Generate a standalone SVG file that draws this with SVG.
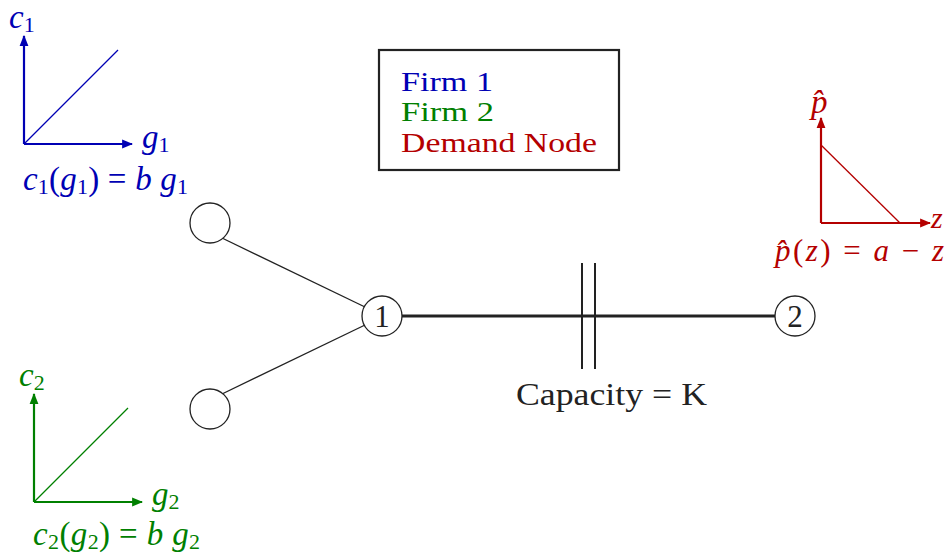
<svg xmlns="http://www.w3.org/2000/svg" width="946" height="557" viewBox="0 0 946 557">
<style>
text{font-family:"Liberation Serif","Times New Roman",serif;}
.it{font-style:italic;}
.blue{fill:#0000b4;}
.green{fill:#008000;}
.red{fill:#b40000;}
.ax{fill:none;stroke-width:2.2;}
.diag{fill:none;stroke-width:1.3;}
.node{fill:#fff;stroke:#222;stroke-width:1.3;}
.lbl{font-size:31px;fill:#222;}
</style>
<defs>
<marker id="ab" viewBox="0 0 10 10" refX="9" refY="5" markerWidth="5" markerHeight="5" orient="auto" markerUnits="strokeWidth"><path d="M0,1 L10,5 L0,9 Z" fill="#0000b4"/></marker>
<marker id="ag" viewBox="0 0 10 10" refX="9" refY="5" markerWidth="5" markerHeight="5" orient="auto" markerUnits="strokeWidth"><path d="M0,1 L10,5 L0,9 Z" fill="#008000"/></marker>
<marker id="ar" viewBox="0 0 10 10" refX="9" refY="5" markerWidth="5" markerHeight="5" orient="auto" markerUnits="strokeWidth"><path d="M0,1 L10,5 L0,9 Z" fill="#b40000"/></marker>
</defs>
<rect width="946" height="557" fill="#fff"/>

<g id="cost1">
<path class="ax" stroke="#0000b4" d="M24,144 V36" marker-end="url(#ab)"/>
<path class="ax" stroke="#0000b4" d="M24,144 H132" marker-end="url(#ab)"/>
<path class="diag" stroke="#0000b4" d="M24,144 L118,50"/>
<text class="blue" x="9" y="28" font-size="33"><tspan class="it">c</tspan><tspan font-size="22" dy="4">1</tspan></text>
<text class="blue" x="142" y="148" font-size="33"><tspan class="it">g</tspan><tspan font-size="22" dy="4">1</tspan></text>
<text class="blue" x="23" y="190" font-size="33" textLength="165" lengthAdjust="spacing"><tspan class="it">c</tspan><tspan font-size="22" dy="4">1</tspan><tspan dy="-4">(</tspan><tspan class="it">g</tspan><tspan font-size="22" dy="4">1</tspan><tspan dy="-4">) = </tspan><tspan class="it">b g</tspan><tspan font-size="22" dy="4">1</tspan></text>
</g>

<g id="cost2">
<path class="ax" stroke="#008000" d="M34,502 V394" marker-end="url(#ag)"/>
<path class="ax" stroke="#008000" d="M34,502 H142" marker-end="url(#ag)"/>
<path class="diag" stroke="#008000" d="M34,502 L128,408"/>
<text class="green" x="19" y="386" font-size="33"><tspan class="it">c</tspan><tspan font-size="22" dy="4">2</tspan></text>
<text class="green" x="152" y="505" font-size="33"><tspan class="it">g</tspan><tspan font-size="22" dy="4">2</tspan></text>
<text class="green" x="33" y="545" font-size="33" textLength="167" lengthAdjust="spacing"><tspan class="it">c</tspan><tspan font-size="22" dy="4">2</tspan><tspan dy="-4">(</tspan><tspan class="it">g</tspan><tspan font-size="22" dy="4">2</tspan><tspan dy="-4">) = </tspan><tspan class="it">b g</tspan><tspan font-size="22" dy="4">2</tspan></text>
</g>

<g id="demand">
<path class="ax" stroke="#b40000" d="M821,223 V118" marker-end="url(#ar)"/>
<path class="ax" stroke="#b40000" d="M821,223 H930" marker-end="url(#ar)"/>
<path class="diag" stroke="#b40000" d="M821,145 L900,223"/>
<text class="red it" x="811" y="113" font-size="33">p̂</text>
<text class="red it" x="931" y="228" font-size="30">z</text>
<text class="red" x="775" y="261" font-size="31" textLength="169" lengthAdjust="spacing"><tspan class="it">p̂</tspan>(<tspan class="it">z</tspan>) = <tspan class="it">a</tspan> − <tspan class="it">z</tspan></text>
</g>

<g id="legend">
<rect x="379" y="50" width="240" height="120" fill="none" stroke="#222" stroke-width="2.2"/>
<text class="blue" x="401" y="91" font-size="28" textLength="92" lengthAdjust="spacingAndGlyphs">Firm 1</text>
<text class="green" x="401" y="121" font-size="28" textLength="93" lengthAdjust="spacingAndGlyphs">Firm 2</text>
<text class="red" x="401" y="152" font-size="28" textLength="196" lengthAdjust="spacingAndGlyphs">Demand Node</text>
</g>

<g id="connectors" fill="none" stroke="#222">
<path d="M222,238 L365,307" stroke-width="1.3"/>
<path d="M222,394 L365,325" stroke-width="1.3"/>
<path d="M402,316 H775" stroke-width="3"/>
<path d="M582,263 V369 M595,263 V369" stroke-width="2"/>
</g>

<g id="firm1"><circle class="node" cx="210" cy="223" r="20"/></g>
<g id="firm2"><circle class="node" cx="210" cy="409" r="20"/></g>
<g id="node1"><circle class="node" cx="382" cy="316" r="20"/><text class="lbl" x="382" y="327" text-anchor="middle">1</text></g>
<g id="node2"><circle class="node" cx="795" cy="316" r="20"/><text class="lbl" x="795" y="327" text-anchor="middle">2</text></g>

<g id="capacity"><text class="lbl" x="516" y="405" font-size="33" textLength="191" lengthAdjust="spacingAndGlyphs">Capacity = K</text></g>
</svg>
